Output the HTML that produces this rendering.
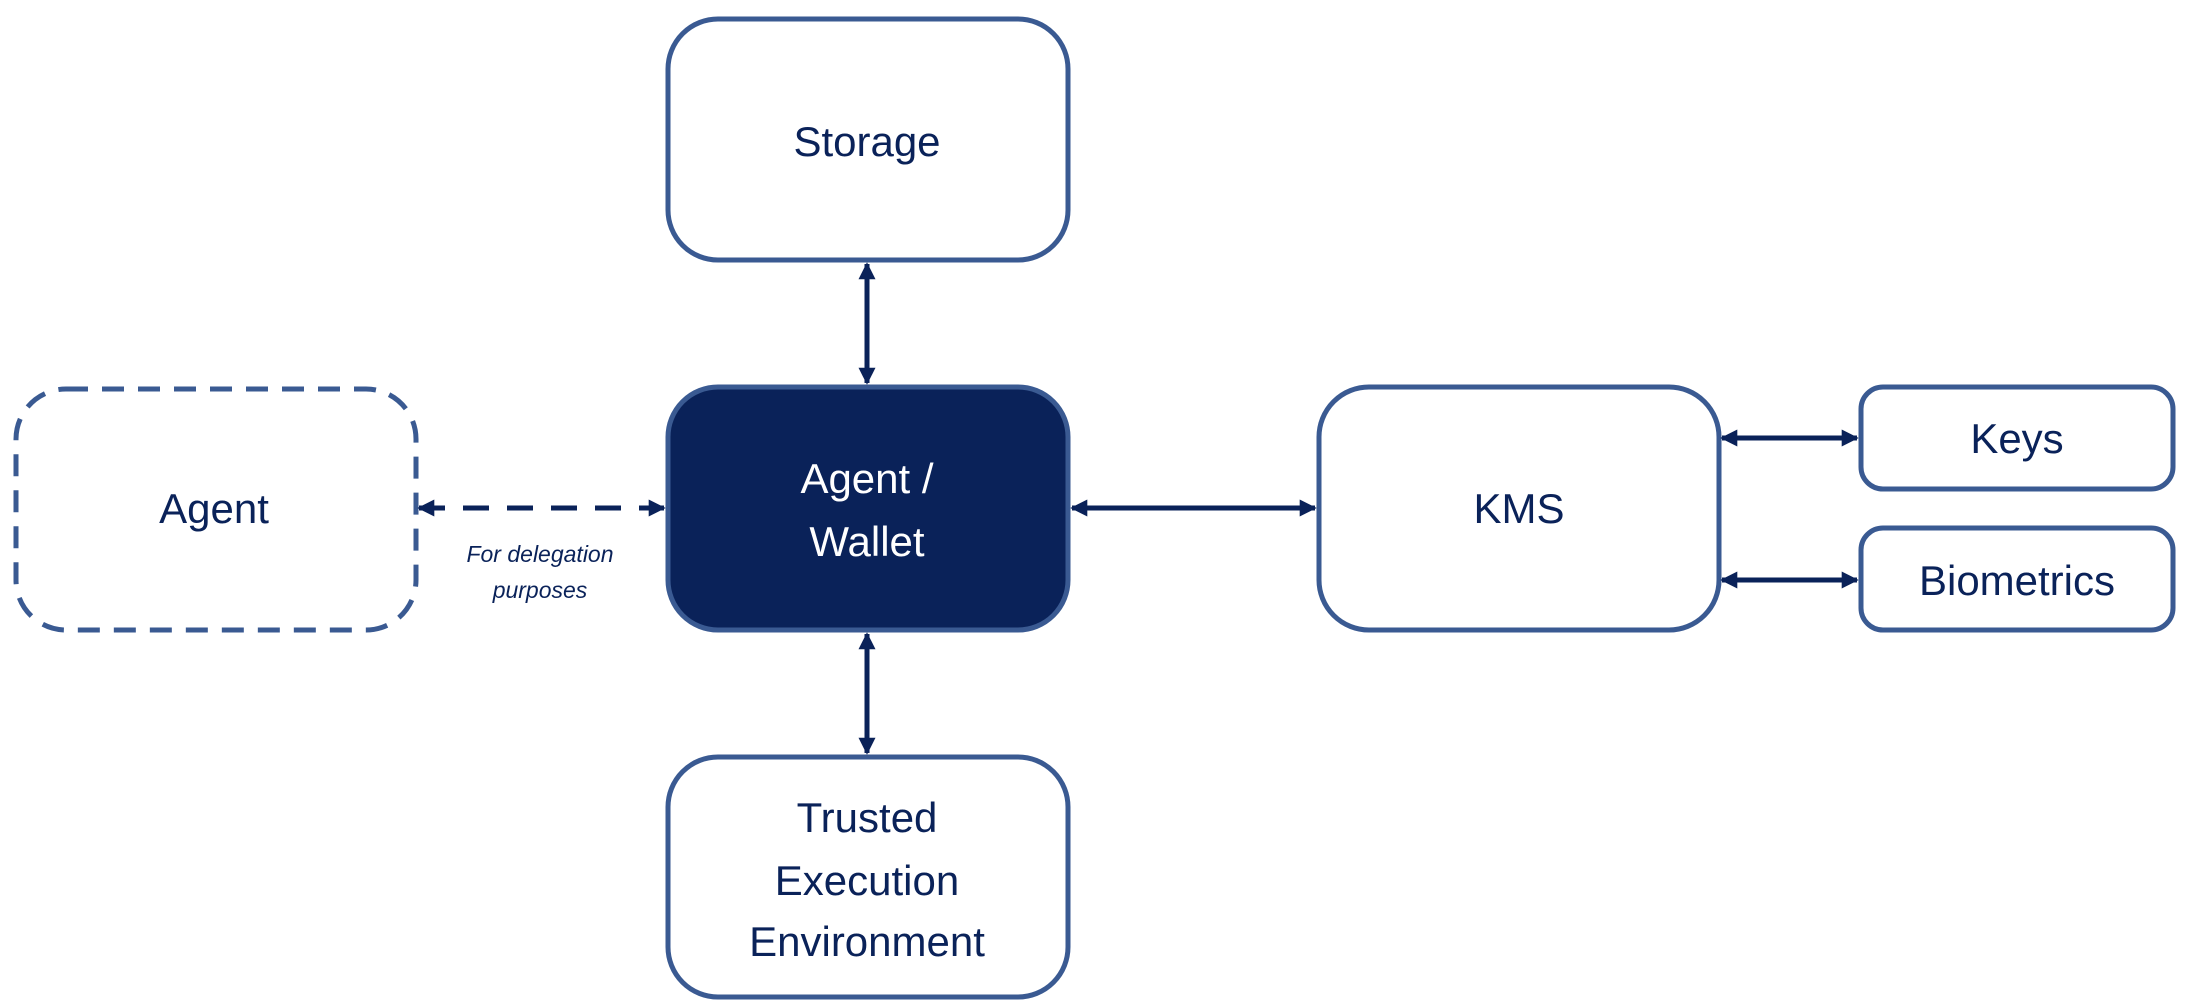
<!DOCTYPE html>
<html><head><meta charset="utf-8"><style>
html,body{margin:0;padding:0;background:#fff;}
svg{display:block;}
text{font-family:"Liberation Sans",sans-serif;fill:#0a2259;}
</style></head><body>
<svg width="2188" height="1008" viewBox="0 0 2188 1008" xmlns="http://www.w3.org/2000/svg">
<defs>
<marker id="a" viewBox="0 0 10 10" refX="9" refY="5" markerWidth="3.6" markerHeight="3.4" orient="auto-start-reverse">
<path d="M0,0 L10,5 L0,10 z" fill="#0a2259"/></marker>
</defs>
<g stroke="#3a5a92" stroke-width="5" fill="#fff">
<rect x="668" y="19" width="400" height="241" rx="50"/>
<rect x="668" y="387" width="400" height="243" rx="50" fill="#0a2259"/>
<rect x="668" y="757" width="400" height="240" rx="50"/>
<rect x="16" y="389" width="400" height="241" rx="50" stroke-dasharray="22,14"/>
<rect x="1319" y="387" width="400" height="243" rx="50"/>
<rect x="1861" y="387" width="312" height="102" rx="22"/>
<rect x="1861" y="528" width="312" height="102" rx="22"/>
</g>
<g stroke="#0a2259" stroke-width="5" fill="none">
<line x1="867" y1="264" x2="867" y2="383" marker-start="url(#a)" marker-end="url(#a)"/>
<line x1="867" y1="634" x2="867" y2="753" marker-start="url(#a)" marker-end="url(#a)"/>
<line x1="1072" y1="508" x2="1315" y2="508" marker-start="url(#a)" marker-end="url(#a)"/>
<line x1="1722" y1="438" x2="1857" y2="438" marker-start="url(#a)" marker-end="url(#a)"/>
<line x1="1722" y1="580" x2="1857" y2="580" marker-start="url(#a)" marker-end="url(#a)"/>
<line x1="419" y1="508" x2="664" y2="508" stroke-dasharray="26,18" marker-start="url(#a)" marker-end="url(#a)"/>
</g>
<g font-size="42" text-anchor="middle">
<text x="867" y="156">Storage</text>
<text x="867" y="493" style="fill:#fff">Agent /</text>
<text x="867" y="556" style="fill:#fff">Wallet</text>
<text x="867" y="832">Trusted</text>
<text x="867" y="895">Execution</text>
<text x="867" y="956">Environment</text>
<text x="214" y="523">Agent</text>
<text x="1519" y="523">KMS</text>
<text x="2017" y="453">Keys</text>
<text x="2017" y="595">Biometrics</text>
</g>
<g font-size="23" font-style="italic" text-anchor="middle">
<text x="540" y="562">For delegation</text>
<text x="540" y="598">purposes</text>
</g>
</svg>
</body></html>
